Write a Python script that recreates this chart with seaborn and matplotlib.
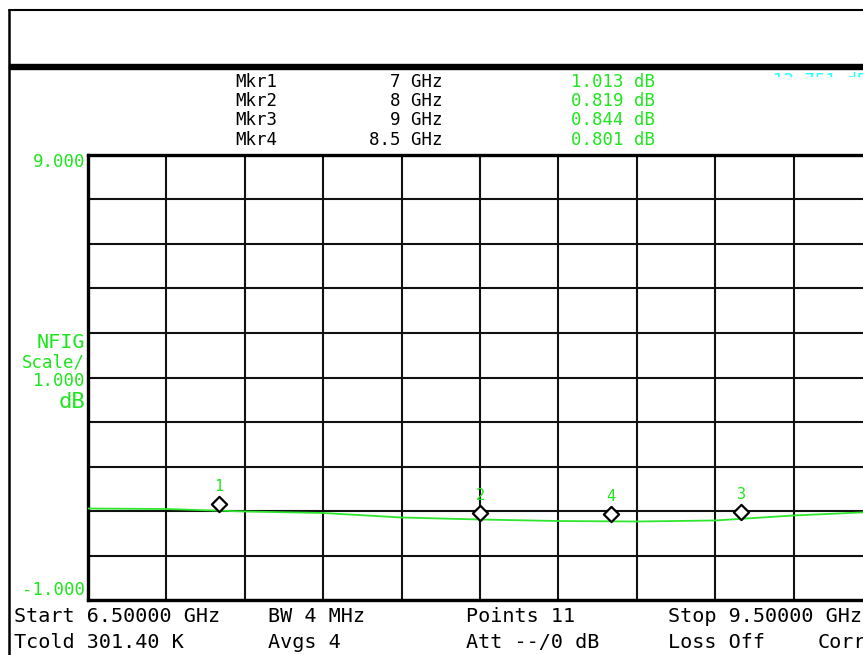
import numpy as np
import pandas as pd
import matplotlib
matplotlib.use("Agg")
import matplotlib.pyplot as plt
import matplotlib.transforms as mtransforms
from matplotlib.patches import Rectangle
from matplotlib.lines import Line2D
import seaborn as sns

# ---------------- data ----------------
freq_ghz = [6.5, 6.8, 7.1, 7.4, 7.7, 8.0, 8.3, 8.6, 8.9, 9.2, 9.5]
nfig_db = [1.056, 1.045, 0.989, 0.955, 0.854, 0.809, 0.775, 0.764, 0.787, 0.899, 0.978]

marker_names = ["Mkr1", "Mkr2", "Mkr3", "Mkr4"]
marker_ids = ["1", "2", "3", "4"]
marker_freq = [7.0, 8.0, 9.0, 8.5]
marker_freq_labels = ["7 GHz", "8 GHz", "9 GHz", "8.5 GHz"]
marker_db = [1.013, 0.819, 0.844, 0.801]

y_top_label, y_bottom_label = "9.000", "-1.000"
y_top, y_bottom = 9.0, -1.0
x_start, x_stop = 6.5, 9.5
n_div = 10

bottom_row1 = [("Start 6.50000 GHz", 14), ("BW 4 MHz", 268), ("Points 11", 466), ("Stop 9.50000 GHz", 668)]
bottom_row2 = [("Tcold 301.40 K", 14), ("Avgs 4", 268), ("Att --/0 dB", 466), ("Loss Off", 668), ("Corr", 818)]

# ---------------- style ----------------
sns.set_style("white")
MONO = ["DejaVu Sans Mono"]
plt.rcParams["font.family"] = MONO
GREEN = "#1ee61e"
TRACE = "#2ee62e"
CYAN = "#22ffff"

W, H = 863, 655
fig = plt.figure(figsize=(W / 100, H / 100), dpi=100)
fig.patch.set_facecolor("white")


def P(x, y):
    return x / W, 1 - y / H


# main axes (extends past the right edge, as in the cropped screenshot)
left_px, right_px, top_px, bot_px = 88, 872, 155, 600
ax = fig.add_axes([left_px / W, 1 - bot_px / H, (right_px - left_px) / W, (bot_px - top_px) / H])
ax.set_xlim(x_start, x_stop)
ax.set_ylim(y_bottom, y_top)
ax.set_xticks(np.linspace(x_start, x_stop, n_div + 1))
ax.set_yticks(np.linspace(y_bottom, y_top, n_div + 1))
ax.tick_params(length=0, labelleft=False, labelbottom=False)
ax.grid(True, color="#111111", linewidth=1.5)
ax.set_axisbelow(True)
for s in ["left", "top", "bottom"]:
    ax.spines[s].set_linewidth(2.4)
    ax.spines[s].set_color("black")
ax.spines["right"].set_visible(False)
ax.set_facecolor("white")

df = pd.DataFrame({"freq": freq_ghz, "nf": nfig_db})
sns.lineplot(data=df, x="freq", y="nf", color=TRACE, linewidth=1.3, ax=ax, zorder=3)

mdf = pd.DataFrame({"freq": marker_freq, "nf": marker_db, "id": marker_ids})
sns.scatterplot(data=mdf, x="freq", y="nf", marker="D", s=60, facecolor="white",
                edgecolor="black", linewidth=1.6, ax=ax, zorder=5, legend=False)
off = mtransforms.ScaledTranslation(0, 6 / 100, fig.dpi_scale_trans)
ax.collections[-1].set_offset_transform(ax.transData + off)
for f, v, i in zip(marker_freq, marker_db, marker_ids):
    ax.annotate(i, (f, v), xytext=(0, 17), textcoords="offset points", ha="center",
                va="center", color=GREEN, fontsize=11, zorder=6)
ax.set_xlabel("")
ax.set_ylabel("")

# ---------------- panel frame ----------------
fig.add_artist(Line2D([9 / W, 9 / W], [0, 1 - 10 / H], color="black", lw=1.8, transform=fig.transFigure))
fig.add_artist(Line2D([9 / W, 1], [1 - 10 / H, 1 - 10 / H], color="black", lw=1.5, transform=fig.transFigure))
fig.add_artist(Rectangle(P(9, 69), 1, 5 / H, color="black", transform=fig.transFigure, zorder=4))

# clipped cyan readout under the band
t = fig.text(*P(773, 72), "12.751 dB", color=CYAN, fontsize=12.5, ha="left", va="top", zorder=3)
clip = Rectangle(P(700, 77), 200 / W, 8 / H, transform=fig.transFigure, visible=False)
fig.add_artist(clip)
t.set_clip_path(clip)

# ---------------- marker table ----------------
rows_y = [82, 101, 120, 140]
for name, fl, val, y in zip(marker_names, marker_freq_labels, marker_db, rows_y):
    fig.text(*P(235, y), name, color="black", fontsize=12.5, ha="left", va="center")
    fig.text(*P(442, y), fl, color="black", fontsize=12.5, ha="right", va="center")
    fig.text(*P(655, y), f"{val:.3f} dB", color=GREEN, fontsize=12.5, ha="right", va="center")

# ---------------- left labels ----------------
fig.text(*P(85, 162), y_top_label, color=GREEN, fontsize=12.5, ha="right", va="center")
fig.text(*P(85, 590), y_bottom_label, color=GREEN, fontsize=12.5, ha="right", va="center")
fig.text(*P(85, 342), "NFIG", color=GREEN, fontsize=14.5, ha="right", va="center")
fig.text(*P(85, 362), "Scale/", color=GREEN, fontsize=12.5, ha="right", va="center")
fig.text(*P(85, 381), "1.000", color=GREEN, fontsize=12.5, ha="right", va="center")
fig.text(*P(85, 402), "dB", color=GREEN, fontsize=16, ha="right", va="center")

# ---------------- bottom info ----------------
for txt, x in bottom_row1:
    fig.text(*P(x, 617), txt, color="black", fontsize=14.5, ha="left", va="center")
for txt, x in bottom_row2:
    fig.text(*P(x, 643), txt, color="black", fontsize=14.5, ha="left", va="center")

fig.savefig("out.png", dpi=100)
